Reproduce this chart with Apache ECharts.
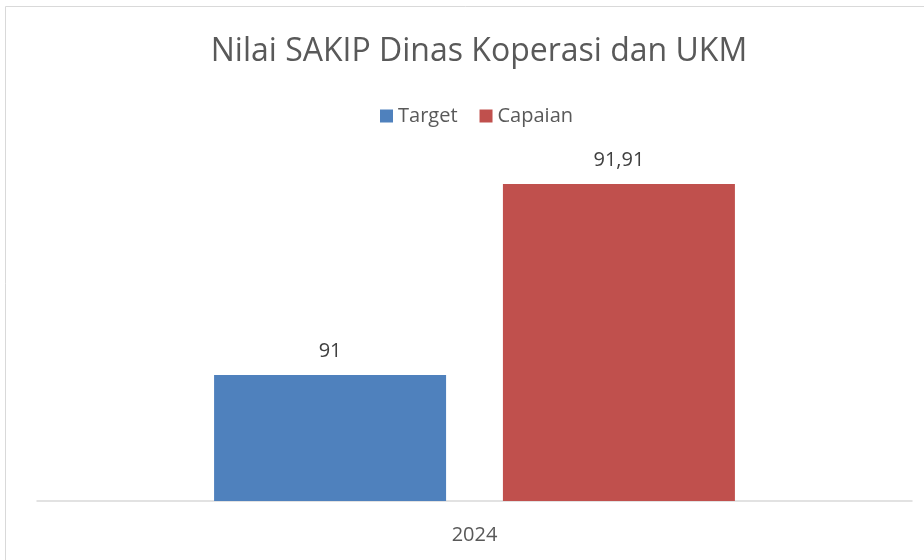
<!DOCTYPE html>
<html>
<head>
<meta charset="utf-8">
<script src="https://cdn.jsdelivr.net/npm/echarts@6/dist/echarts.min.js"></script>
<style>
  html, body { margin: 0; padding: 0; background: #fff; }
  #main { width: 924px; height: 560px; }
</style>
</head>
<body>
<div id="main"></div>
<script>
var categories = ['2024'];
var seriesNames = ['Target', 'Capaian'];
var targetValues = [91];
var capaianValues = [91.91];
var colors = ['#4f81bd', '#c0504d'];

var fontFam = 'Open Sans, Noto Sans, sans-serif';

function fmt(p) {
	return String(p.value).replace('.', ',');
}

var myChart = echarts.init(document.getElementById('main'));
var option = {
	animation: false,
	color: colors,
	title: {
		text: 'Nilai SAKIP Dinas Koperasi dan UKM',
		left: 474,
		textAlign: 'center',
		top: 31,
		textStyle: { fontFamily: fontFam, fontSize: 32, fontWeight: 'normal', color: '#595959' }
	},
	legend: {
		data: seriesNames,
		left: 375,
		top: 101,
		itemWidth: 13,
		itemHeight: 13,
		itemGap: 22,
		icon: 'rect',
		textStyle: { fontFamily: fontFam, fontSize: 20, color: '#595959' }
	},
	graphic: [{
		type: 'rect',
		shape: { x: 5.5, y: 6.5, width: 940, height: 580 },
		style: { fill: 'none', stroke: '#d9d9d9', lineWidth: 1 },
		silent: true
	}],
	grid: { left: 37, right: 12, top: 165, bottom: 59 },
	xAxis: {
		type: 'category',
		data: categories,
		axisLine: { lineStyle: { color: '#d9d9d9', width: 1.5 } },
		axisTick: { show: false },
		axisLabel: { margin: 24, fontFamily: fontFam, fontSize: 20, color: '#595959' }
	},
	yAxis: {
		type: 'value',
		min: 90.4,
		max: 92,
		show: false,
		splitLine: { show: false }
	},
	series: [{
		name: seriesNames[0],
		type: 'bar',
		data: targetValues,
		barWidth: 232,
		barGap: '24.5%',
		label: { show: true, position: 'top', distance: 14, formatter: fmt, fontFamily: fontFam, fontSize: 20, color: '#404040' }
	}, {
		name: seriesNames[1],
		type: 'bar',
		data: capaianValues,
		barWidth: 232,
		label: { show: true, position: 'top', distance: 14, formatter: fmt, fontFamily: fontFam, fontSize: 20, color: '#404040' }
	}]
};
myChart.setOption(option);
</script>
</body>
</html>
